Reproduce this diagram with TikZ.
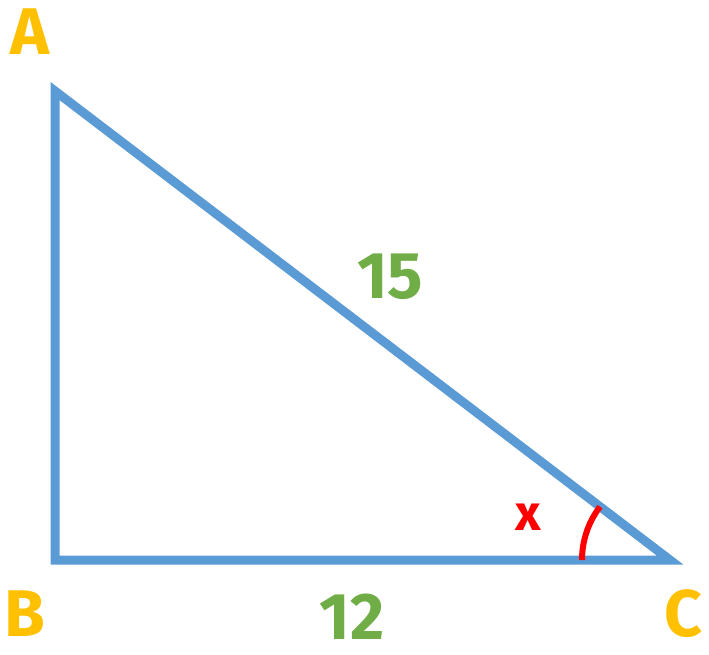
\documentclass[tikz,border=0pt]{standalone}
\usepackage{fontspec}
\setmainfont{Fira Sans}
\definecolor{triblue}{HTML}{5B9BD5}
\definecolor{labyellow}{HTML}{FFC000}
\definecolor{labgreen}{HTML}{70AD47}
\definecolor{angred}{HTML}{FF0000}
\begin{document}
\begin{tikzpicture}[x=1pt,y=-1pt,
  side/.style={draw=triblue,line width=9pt,line join=miter},
  vlabel/.style={text=labyellow,font=\fontsize{66}{66}\selectfont\bfseries,inner sep=0pt},
  nlabel/.style={text=labgreen,font=\fontsize{66}{66}\selectfont\bfseries,inner sep=0pt},
  angmark/.style={draw=angred,line width=6pt}]
\useasboundingbox (0,0) rectangle (709,654);
\coordinate (A) at (55,91);
\coordinate (B) at (55,560);
\coordinate (C) at (670,560);
\draw[side] (A) -- (B) -- (C) -- cycle;
\draw[angmark] ([xshift=-88pt]C) arc[start angle=180,end angle=142.7,radius=88pt];
\node[vlabel] (la) at (30,32) {A};
\node[vlabel] (lb) at (25,614) {B};
\node[vlabel] (lc) at (683,614) {C};
\node[nlabel] (l15) at (390,277) {15};
\node[nlabel] (l12) at (352,617) {12};
\node[text=angred,font=\fontsize{50}{50}\selectfont\bfseries,inner sep=0pt] (lx) at (528,517) {x};
\end{tikzpicture}
\end{document}
